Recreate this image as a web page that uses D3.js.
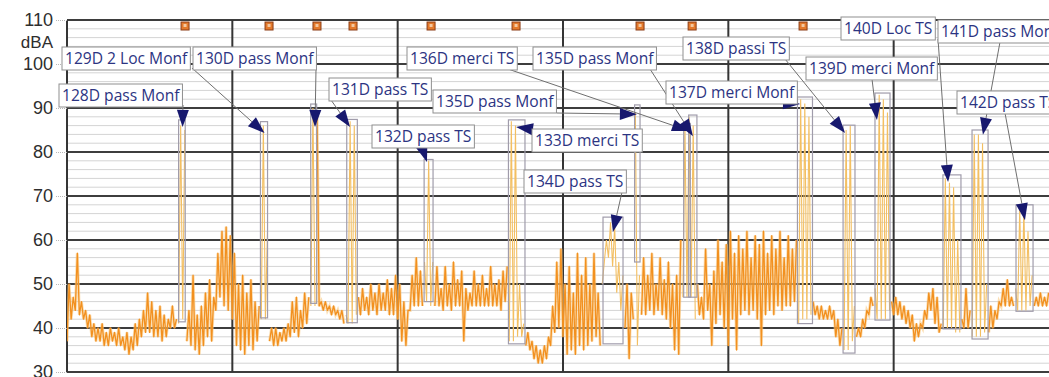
<!DOCTYPE html>
<html><head><meta charset="utf-8">
<script src="https://cdn.jsdelivr.net/npm/d3@7"></script>
<style>body{margin:0;background:#fff}svg{display:block}</style>
</head><body>
<svg id="chart" width="1049" height="377"></svg>
<script>
// Sound level log, one value pair per 15 s interval (dBA)
const binMinutes = 0.25;
const lmin = [
  37,42,44,43,42,40,38,37,37,36,
  36,37,36,36,35,34,35,36,38,39,
  39,38,38,37,38,40,40,41,42,37,
  36,35,34,36,38,37,44,47,45,44,
  42,36,35,34,36,35,37,42,42,37,
  36,36,37,37,38,39,38,40,41,45,
  45,45,44,44,43,43,42,41,41,41,
  43,43,44,43,44,43,44,44,43,43,
  42,37,36,44,45,45,45,46,45,45,
  45,44,45,44,45,45,37,44,45,45,
  45,45,45,45,45,44,46,37,37,38,
  38,36,35,33,32,32,33,36,39,40,
  38,34,35,34,36,35,36,37,38,36,
  55,56,54,48,44,40,33,42,36,43,
  43,44,43,44,43,42,40,35,34,47,
  47,47,42,43,42,44,36,41,43,40,
  36,42,35,43,44,43,44,42,36,43,
  44,43,45,44,45,45,46,41,42,42,
  43,43,42,42,42,42,38,36,35,35,
  37,38,38,40,43,45,42,42,42,44,
  43,43,42,41,40,37,38,40,42,44,
  41,39,40,40,40,39,39,40,40,38,
  38,38,39,39,40,42,45,45,45,45,
  44,44,44,45,45,45,45,45
];
const lmax = [
  50,47,57,46,44,43,41,40,41,39,
  40,39,40,38,39,38,41,42,44,48,
  46,44,45,43,42,45,42,86,85,44,
  52,43,45,48,51,47,57,62,63,61,
  57,50,52,48,51,46,45,86,62,40,
  40,39,40,41,46,47,44,48,47,90,
  89,46,46,45,45,44,44,43,87,86,
  47,49,47,50,48,50,48,51,49,52,
  50,46,44,52,56,53,55,78,55,54,
  49,54,50,55,51,53,49,48,53,50,
  52,49,54,50,51,53,54,87,86,50,
  41,39,37,36,35,36,38,45,55,58,
  50,54,48,57,52,56,50,57,48,50,
  60,64,63,55,52,50,48,89,52,56,
  52,57,50,56,51,55,50,52,60,86,
  88,86,50,47,58,50,53,60,55,59,
  62,57,61,58,62,56,61,59,62,57,
  61,58,62,56,61,58,60,92,91,88,
  46,45,45,44,45,44,42,40,85,86,
  45,40,42,44,47,49,93,92,89,46,
  47,46,45,44,43,41,41,44,48,49,
  47,41,74,73,72,60,42,49,44,84,
  84,82,50,45,44,46,49,51,47,49,
  67,67,62,52,47,48,47,48
];

// Identified events (minutes from start of the log, dBA)
const eventLabels = [
  "128D pass Monf", "129D 2 Loc Monf", "130D pass Monf", "131D pass TS",
  "132D pass TS", "133D merci TS", "134D pass TS", "135D pass Monf",
  "136D merci TS", "135D pass Monf", "137D merci Monf", "138D passi TS",
  "139D merci Monf", "140D Loc TS", "141D pass Monf", "142D pass TS"
];
const eventStart = [6.75, 11.70, 14.74, 16.92, 21.60, 26.70, 32.42, 34.33, 37.30, 37.60, 44.18, 46.94, 48.87, 52.98, 54.74, 57.40];
const eventEnd   = [7.15, 12.13, 15.10, 17.56, 22.14, 27.70, 33.63, 34.66, 37.70, 38.10, 45.09, 47.66, 49.78, 54.07, 55.71, 58.43];
const eventLevel = [87.3, 86.9, 90.9, 87.4, 78.3, 87.3, 65.2, 90.7, 86.5, 88.4, 92.5, 86.1, 93.4, 74.8, 85.0, 68.0];
const eventFloor = [41.4, 42.3, 45.6, 41.2, 46.0, 36.4, 36.4, 55.0, 47.0, 47.0, 41.0, 34.3, 41.8, 39.8, 37.5, 43.8];

// Flag markers along the top edge (minutes)
const markerTimes = [7.14, 12.22, 15.12, 17.30, 22.02, 27.16, 34.66, 37.81, 44.52];

// Axis ticks
const yTicks = [30, 40, 50, 60, 70, 80, 90, 100, 110];
const yMinor = d3.range(30, 111, 2).filter(v => v % 10 !== 0);
const xMajor = [0, 10, 20, 30, 40, 50, 60];

// Callout layout: label box corner (px), leader start (px), arrow tip (minutes, dBA)
const calloutBox = [[59,84],[62,47],[193,47],[329,78],[372,125],[532,129],[524,170],[433,90],
                    [407,47],[533,47],[666,81],[683,37],[806,57],[841,17],[938,20],[957,91]];
const calloutFrom = [[183,105],[192,68],[316,69],[331,100],[422,147],[545,131],[622,192],[557,113],
                     [505,68],[650,69],[780,103],[785,59],[872,79],[938,39],[1000,42],[1005,113]];
const calloutTip = [[6.99,85.7],[11.95,84.3],[15.0,85.7],[17.12,85.7],[21.77,77.7],[27.16,85.7],[33.02,61.8],[34.47,88.6],
                    [37.62,84.8],[37.86,83.6],[44.34,90.9],[47.06,84.3],[48.99,87.3],[53.29,73.2],[55.40,83.9],[57.94,64.5]];

const W = 1049, H = 377;
const svg = d3.select("#chart");
const x = d3.scaleLinear().domain([0, 60]).range([67, 1059]);
const y = d3.scaleLinear().domain([30, 110]).range([372, 20]);
const left = x(0), right = W;

svg.append("defs").append("clipPath").attr("id", "plot")
  .append("rect").attr("x", left).attr("y", y(110) - 1).attr("width", right - left).attr("height", y(30) - y(110) + 2);

// minor horizontal grid
svg.append("g").selectAll("line").data(yMinor).join("line")
  .attr("x1", left).attr("x2", right).attr("y1", d => y(d)).attr("y2", d => y(d))
  .attr("stroke", "#d4d4d4").attr("stroke-width", 1);

// major horizontal grid
svg.append("g").selectAll("line").data(yTicks).join("line")
  .attr("x1", left).attr("x2", right).attr("y1", d => y(d)).attr("y2", d => y(d))
  .attr("stroke", "#3d3d3d").attr("stroke-width", 2);

// major vertical grid
svg.append("g").selectAll("line").data(xMajor).join("line")
  .attr("x1", d => x(d)).attr("x2", d => x(d)).attr("y1", y(110)).attr("y2", y(30))
  .attr("stroke", "#353535").attr("stroke-width", 2);

// y axis labels
const yAxis = d3.axisLeft(y).tickValues(yTicks).tickSize(12).tickPadding(2).tickFormat(d3.format("d"));
svg.append("g").attr("transform", `translate(${left},0)`).call(yAxis)
  .call(g => g.select(".domain").remove())
  .call(g => g.selectAll(".tick line").attr("stroke", "#b8b8b8").attr("stroke-dasharray", "1,1"))
  .call(g => g.selectAll(".tick text").attr("font-family", "Liberation Sans, Arial, sans-serif")
      .attr("font-size", 18).attr("fill", "#2e2e2e"));
svg.append("text").attr("x", left - 14).attr("y", y(105)).attr("dy", "0.35em")
  .attr("text-anchor", "end").attr("font-family", "Liberation Sans, Arial, sans-serif")
  .attr("font-size", 17).attr("fill", "#2e2e2e").text("dBA");

const plot = svg.append("g").attr("clip-path", "url(#plot)");

// level trace: Lmin at interval start, Lmax at mid-interval
const pts = [];
lmin.forEach((v, i) => {
  const t = i * binMinutes;
  pts.push([t, v]);
  pts.push([t + binMinutes / 2, lmax[i]]);
});
const inEvent = t => eventStart.some((s, k) => t >= s - 0.05 && t <= eventEnd[k] + 0.02);
const ambient = d3.line().x(d => x(d[0])).y(d => y(d[1])).defined(d => !inEvent(d[0]))(pts);
plot.append("path").attr("d", ambient).attr("fill", "none")
  .attr("stroke", "#f8c983").attr("stroke-width", 3).attr("stroke-opacity", 0.6);
plot.append("path").attr("d", ambient).attr("fill", "none")
  .attr("stroke", "#f2901f").attr("stroke-width", 1.3).attr("stroke-linejoin", "round");
const during = d3.line().x(d => x(d[0])).y(d => y(d[1])).defined(d => inEvent(d[0]))(pts);
plot.append("path").attr("d", during).attr("fill", "none")
  .attr("stroke", "#f3bf62").attr("stroke-width", 1.1);

// event boxes
plot.append("g").selectAll("rect").data(eventLabels).join("rect")
  .attr("x", (d, i) => x(eventStart[i]))
  .attr("width", (d, i) => x(eventEnd[i]) - x(eventStart[i]))
  .attr("y", (d, i) => y(eventLevel[i]))
  .attr("height", (d, i) => y(eventFloor[i]) - y(eventLevel[i]))
  .attr("fill", "none").attr("stroke", "#a09cab").attr("stroke-width", 1.2);

// flag markers
const mk = svg.append("g").selectAll("g").data(markerTimes).join("g")
  .attr("transform", d => `translate(${x(d)},26)`);
mk.append("rect").attr("x", -4).attr("y", -4).attr("width", 8).attr("height", 8)
  .attr("fill", "#e47a2c").attr("stroke", "#8c3d16").attr("stroke-width", 1);
mk.append("rect").attr("x", -1.5).attr("y", -2).attr("width", 3).attr("height", 3).attr("fill", "#f4c8a0");

// callouts: leader lines + arrowheads
const callouts = svg.append("g");
eventLabels.forEach((lab, i) => {
  const [fx, fy] = calloutFrom[i];
  const tx = x(calloutTip[i][0]), ty = y(calloutTip[i][1]);
  const dx = tx - fx, dy = ty - fy, len = Math.hypot(dx, dy);
  const ux = dx / len, uy = dy / len;
  const L = 17, hw = 6;
  const bx = tx - ux * L, by = ty - uy * L;
  callouts.append("line").attr("x1", fx).attr("y1", fy).attr("x2", bx).attr("y2", by)
    .attr("stroke", "#6f6f6f").attr("stroke-width", 1);
  callouts.append("path")
    .attr("d", `M${tx},${ty}L${bx - uy * hw},${by + ux * hw}L${bx + uy * hw},${by - ux * hw}Z`)
    .attr("fill", "#17186e");
});

// label boxes
const labels = svg.append("g");
eventLabels.forEach((lab, i) => {
  const [lx, ly] = calloutBox[i];
  const g = labels.append("g").attr("transform", `translate(${lx},${ly})`);
  const r = g.append("rect").attr("height", 23).attr("fill", "#fff")
    .attr("stroke", "#8f8f8f").attr("stroke-width", 1);
  const t = g.append("text").attr("x", 3).attr("y", 16.8)
    .attr("font-family", "Open Sans, sans-serif").attr("font-size", 15.6)
    .attr("fill", "#2c3482").text(lab);
  r.attr("width", t.node().getComputedTextLength() + 6);
});
</script>
</body></html>
